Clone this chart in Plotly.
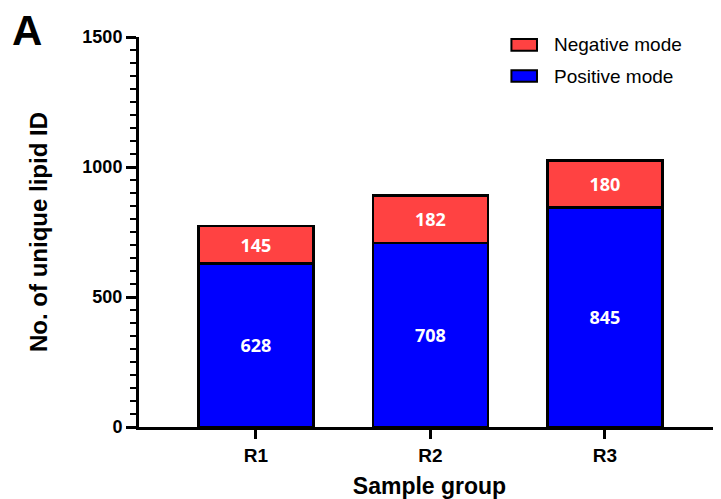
import plotly.graph_objects as go

groups = ["R1", "R2", "R3"]
positive = [628, 708, 845]
negative = [145, 182, 180]
y_ticks = [0, 500, 1000, 1500]

RED = "#FF4242"
BLUE = "#0000FF"

fig = go.Figure()
fig.add_trace(go.Bar(
    x=groups, y=positive, name="Positive mode",
    marker=dict(color=BLUE, line=dict(color="black", width=2.5)),
    text=[str(v) for v in positive], textposition="inside",
    insidetextanchor="middle", textangle=0,
    textfont=dict(family="Open Sans", size=18, color="white", weight="bold"),
    width=0.66, showlegend=False,
))
fig.add_trace(go.Bar(
    x=groups, y=negative, name="Negative mode",
    marker=dict(color=RED, line=dict(color="black", width=2.5)),
    text=[str(v) for v in negative], textposition="inside",
    insidetextanchor="middle", textangle=0,
    textfont=dict(family="Open Sans", size=18, color="white", weight="bold"),
    width=0.66, showlegend=False,
))

# manual legend (paper coordinates)
legend_items = [("Negative mode", RED, 0.995, 0.965), ("Positive mode", BLUE, 0.915, 0.885)]
shapes = []
annotations = []
for label, col, y1, y0 in legend_items:
    shapes.append(dict(type="rect", xref="paper", yref="paper",
                       x0=0.641, x1=0.685, y0=y0, y1=y1,
                       fillcolor=col, line=dict(color="black", width=2)))
    annotations.append(dict(xref="paper", yref="paper", x=0.71, y=(y0 + y1) / 2,
                            text=label, showarrow=False, xanchor="left", yanchor="middle",
                            font=dict(family="Liberation Sans, Arial", size=19, color="black")))

annotations.append(dict(xref="paper", yref="paper", x=-0.192, y=1.017, text="<b>A</b>",
                        showarrow=False, xanchor="center", yanchor="middle",
                        font=dict(family="Liberation Sans, Arial", size=42, color="black")))

fig.update_layout(
    width=713, height=491,
    margin=dict(l=131, r=1, t=29, b=72),
    plot_bgcolor="white", paper_bgcolor="white",
    barmode="stack",
    shapes=shapes, annotations=annotations,
    font=dict(family="Liberation Sans, Arial", color="black"),
)
fig.update_xaxes(
    range=[-0.67, 2.66], showline=True, linecolor="black", linewidth=3,
    ticks="outside", ticklen=9, tickwidth=3, tickcolor="black",
    tickfont=dict(size=19, weight="bold"),
    title=dict(text="<b>Sample group</b>", font=dict(size=23), standoff=15),
    showgrid=False, zeroline=False,
)
fig.update_yaxes(
    range=[0, 1500], tickvals=y_ticks, showline=True, linecolor="black", linewidth=3,
    ticks="outside", ticklen=10, tickwidth=3, tickcolor="black",
    tickfont=dict(size=18, weight="bold"),
    minor=dict(dtick=50, ticks="outside", ticklen=6, tickwidth=2, tickcolor="black", showgrid=False),
    title=dict(text="<b>No. of unique lipid ID</b>", font=dict(size=24), standoff=28),
    showgrid=False, zeroline=False,
)

fig.write_html("out.html")
